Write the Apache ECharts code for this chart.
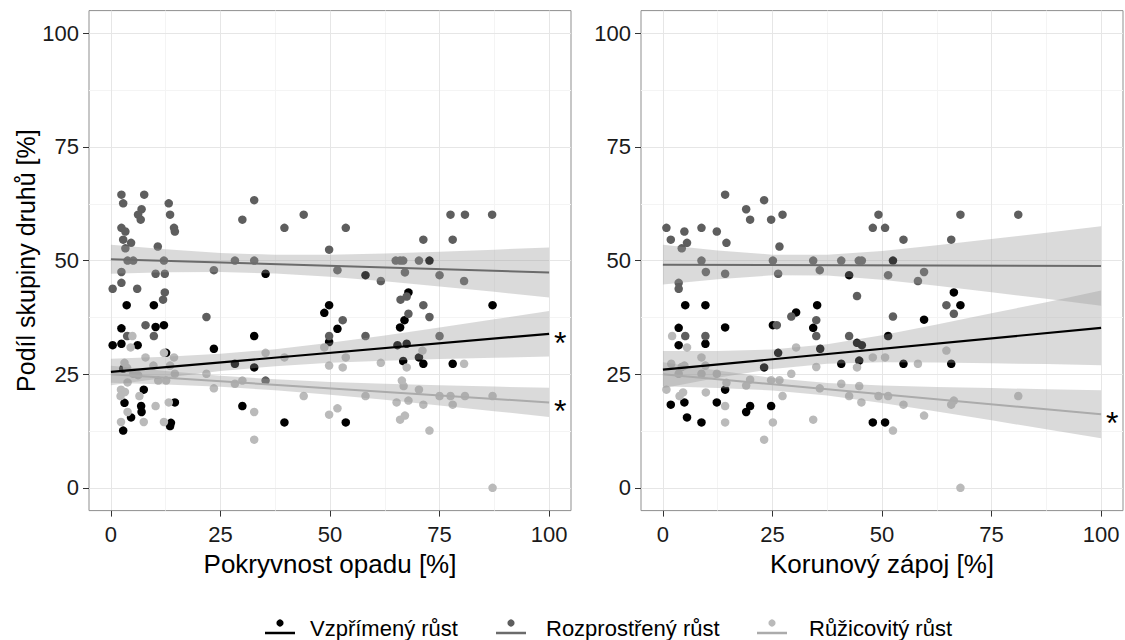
<!DOCTYPE html>
<html>
<head>
<meta charset="utf-8">
<script src="https://cdn.jsdelivr.net/npm/echarts@6/dist/echarts.min.js"></script>
<style>
  html, body { margin: 0; padding: 0; background: #ffffff; }
  #chart { width: 1125px; height: 640px; }
</style>
</head>
<body>
<div id="chart"></div>
<script>
// ---- labels ----
const groupNames = ['Vzpřímený růst', 'Rozprostřený růst', 'Růžicovitý růst'];
const panelTitles = ['Pokryvnost opadu [%]', 'Korunový zápoj [%]'];
const yTitle = 'Podíl skupiny druhů [%]';
const tickValues = [0, 25, 50, 75, 100];
const minorValues = [12.5, 37.5, 62.5, 87.5];

// ---- observations [x, share %] : litter cover panel ----
const litterErect = [[72.7,50.0],[35.3,47.1],[58.1,46.8],[3.6,40.2],[9.8,40.2],[49.8,40.2],[48.7,38.5],[87.1,40.2],[67.9,43.0],[67.0,36.9],[66.0,35.3],[51.7,35.0],[2.4,35.1],[10.2,35.4],[12.1,35.8],[32.7,33.4],[0.4,31.4],[2.4,31.7],[6.1,31.4],[23.5,30.6],[49.8,32.1],[65.4,31.4],[67.5,31.7],[12.6,29.7],[28.3,27.3],[32.7,26.5],[66.7,27.9],[70.3,28.7],[71.3,27.3],[78.0,27.3],[7.5,21.6],[3.1,18.7],[6.9,18.0],[7.0,16.7],[14.6,18.8],[30.0,18.0],[4.6,15.5],[13.7,14.3],[13.5,13.6],[2.8,12.6],[39.6,14.4],[53.6,14.4],[2.8,26.2]];
const litterSpreading = [[2.4,64.5],[7.6,64.5],[2.8,62.6],[13.2,62.6],[32.7,63.3],[7.0,61.3],[6.2,60.1],[6.8,59.0],[13.5,60.1],[30.0,59.0],[44.0,60.1],[39.6,57.2],[53.6,57.2],[77.5,60.1],[80.8,60.1],[87.0,60.1],[2.4,57.2],[3.3,56.4],[14.4,57.2],[14.6,56.4],[2.8,54.6],[4.6,53.9],[3.3,52.7],[10.7,53.1],[71.3,54.6],[78.0,54.6],[49.8,52.4],[3.8,50.0],[5.1,50.0],[12.1,50.0],[28.3,50.0],[32.7,50.0],[65.0,50.0],[66.0,50.0],[66.7,50.0],[70.3,50.0],[2.4,47.5],[10.2,47.1],[12.3,47.1],[23.5,47.9],[51.7,47.9],[67.1,47.4],[61.6,45.5],[75.0,46.8],[80.6,45.5],[0.4,43.8],[2.4,45.1],[6.0,43.8],[12.3,43.0],[11.9,41.4],[66.1,41.4],[67.5,42.1],[71.3,40.2],[21.8,37.6],[52.9,36.9],[67.9,38.3],[72.7,37.6],[7.9,35.8],[3.7,33.4],[9.8,33.4],[49.8,33.4],[58.1,33.4],[75.0,33.4],[35.3,23.6]];
const litterRosette = [[4.9,33.4],[4.5,30.9],[12.1,29.7],[7.9,28.7],[14.4,28.7],[35.3,29.7],[39.6,28.7],[48.7,30.9],[71.1,30.2],[53.6,28.7],[3.1,27.5],[9.7,26.9],[13.5,26.9],[49.8,26.9],[52.9,26.5],[61.6,27.5],[67.5,26.5],[80.6,27.3],[21.8,25.1],[3.7,26.4],[5.1,25.1],[6.2,24.8],[14.6,25.1],[10.8,23.6],[12.6,23.6],[3.8,23.2],[23.5,21.9],[28.3,22.9],[30.0,23.6],[66.4,23.6],[66.8,22.4],[70.3,21.6],[2.3,21.6],[3.2,21.1],[6.5,20.2],[2.2,20.2],[44.0,20.2],[58.1,20.2],[75.0,20.2],[77.5,20.2],[80.8,20.2],[87.1,20.2],[65.2,18.8],[67.9,19.2],[71.3,18.3],[78.0,18.3],[10.2,18.0],[13.2,18.8],[3.8,16.7],[32.7,16.7],[51.7,17.5],[49.8,16.1],[66.0,15.0],[67.1,15.9],[2.3,14.5],[7.5,14.5],[12.1,14.5],[72.7,12.6],[32.7,10.6],[87.1,0.0]];

// ---- observations [x, share %] : canopy cover panel ----
const canopyErect = [[52.5,50.0],[42.5,46.8],[66.4,43.0],[5.1,40.2],[9.7,40.2],[67.9,40.2],[35.2,40.2],[30.4,38.6],[59.6,37.0],[3.6,35.2],[14.2,35.3],[25.1,35.8],[34.3,35.2],[51.4,33.4],[3.6,31.4],[9.7,31.7],[44.3,31.9],[45.4,31.4],[35.9,30.6],[26.3,29.7],[40.7,27.3],[44.8,28.0],[54.9,27.3],[65.8,27.3],[23.1,26.5],[14.2,21.6],[1.8,18.3],[4.9,18.8],[12.3,18.8],[19.0,16.7],[19.9,18.0],[24.7,18.0],[5.5,15.5],[8.8,14.4],[47.9,14.4],[50.7,14.4]];
const canopySpreading = [[14.2,64.5],[23.1,63.3],[19.0,61.3],[19.9,59.0],[24.7,59.0],[27.3,60.1],[0.8,57.2],[1.8,54.6],[4.9,56.4],[5.5,53.9],[8.8,57.2],[12.3,56.4],[14.5,53.9],[4.3,52.7],[26.6,53.1],[49.2,60.1],[47.9,57.2],[50.7,57.2],[54.9,54.6],[65.8,54.6],[67.9,60.1],[81.1,60.1],[8.8,50.0],[25.1,50.0],[34.3,50.0],[40.7,50.0],[44.7,50.0],[45.4,50.0],[9.8,47.5],[14.2,47.1],[26.3,47.1],[35.8,47.9],[51.4,46.8],[59.6,47.5],[58.2,45.5],[3.6,45.1],[3.6,43.8],[44.3,42.2],[64.7,40.2],[66.4,38.3],[52.5,37.7],[29.3,37.7],[26.0,35.8],[35.0,36.9],[5.1,33.4],[9.7,33.4],[35.0,33.4],[42.5,33.4]];
const canopyRosette = [[2.1,33.4],[5.5,30.9],[30.4,30.9],[8.8,28.7],[1.9,27.3],[4.3,26.6],[4.9,26.9],[9.7,26.9],[35.0,26.6],[44.3,26.5],[47.9,28.7],[50.7,28.7],[58.2,27.3],[64.7,30.2],[8.8,25.1],[12.3,25.1],[3.6,25.1],[29.3,25.1],[14.5,23.1],[19.9,23.8],[19.0,22.5],[24.7,23.7],[26.6,23.7],[0.8,21.6],[3.8,20.2],[4.6,21.0],[9.8,21.0],[27.3,20.2],[35.8,21.9],[40.7,22.9],[44.8,22.4],[42.5,20.2],[45.3,18.8],[49.2,20.2],[51.4,20.2],[54.9,18.3],[66.4,19.2],[65.8,18.3],[81.1,20.2],[14.2,18.0],[59.6,15.9],[14.2,14.4],[25.1,14.4],[34.3,15.0],[52.5,12.6],[23.1,10.6],[67.9,0.0]];

// ---- fitted linear trends, value at x = 0 and x = 100 ----
const fitX = [0, 100];
const litterErectFit = [25.5, 33.9];
const litterSpreadingFit = [50.3, 47.4];
const litterRosetteFit = [25.0, 18.8];
const canopyErectFit = [26.0, 35.2];
const canopySpreadingFit = [49.1, 48.8];
const canopyRosetteFit = [25.0, 16.2];

// ---- confidence band edges at bandX ----
const bandX = [0, 12.5, 25, 37.5, 50, 62.5, 75, 87.5, 100];
const litterErectLow = [22.6, 24.25, 25.69, 26.78, 27.5, 27.98, 28.34, 28.63, 28.9];
const litterErectHigh = [28.4, 28.85, 29.51, 30.52, 31.9, 33.52, 35.26, 37.07, 38.9];
const litterSpreadingLow = [47.11, 47.41, 47.49, 47.15, 46.43, 45.44, 44.32, 43.12, 41.9];
const litterSpreadingHigh = [53.49, 52.47, 51.67, 51.27, 51.27, 51.54, 51.94, 52.4, 52.9];
const litterRosetteLow = [23.14, 22.76, 22.23, 21.48, 20.49, 19.36, 18.14, 16.88, 15.6];
const litterRosetteHigh = [26.86, 25.7, 24.67, 23.88, 23.31, 22.9, 22.56, 22.28, 22.0];
const canopyErectLow = [21.9, 24.2, 26.17, 27.32, 27.65, 27.57, 27.41, 27.24, 27.0];
const canopyErectHigh = [30.1, 30.1, 30.43, 31.58, 33.55, 35.93, 38.39, 40.86, 43.4];
const canopySpreadingLow = [44.72, 45.91, 46.75, 46.71, 45.8, 44.45, 43.02, 41.58, 40.05];
const canopySpreadingHigh = [53.48, 52.21, 51.31, 51.27, 52.1, 53.37, 54.74, 56.1, 57.55];
const canopyRosetteLow = [22.35, 21.99, 21.42, 20.32, 18.69, 16.8, 14.85, 12.9, 10.9];
const canopyRosetteHigh = [27.65, 25.81, 24.18, 23.08, 22.51, 22.2, 21.95, 21.7, 21.5];

// significant trend (marked with an asterisk), per group
const litterSignificant = [true, false, true];
const canopySignificant = [false, false, true];

// ---- assembling the panels ----
const FONT = '"Liberation Sans", Arial, sans-serif';
const pointColors = ['#000000', '#5e5e5e', '#bababa'];
const lineColors = ['#000000', '#6b6b6b', '#ababab'];
const lineWidths = [2.2, 2, 2];
const bandFill = 'rgba(153,153,153,0.36)';

const panels = [
  {
    points: [litterErect, litterSpreading, litterRosette],
    fits: [litterErectFit, litterSpreadingFit, litterRosetteFit],
    lows: [litterErectLow, litterSpreadingLow, litterRosetteLow],
    highs: [litterErectHigh, litterSpreadingHigh, litterRosetteHigh],
    sig: litterSignificant
  },
  {
    points: [canopyErect, canopySpreading, canopyRosette],
    fits: [canopyErectFit, canopySpreadingFit, canopyRosetteFit],
    lows: [canopyErectLow, canopySpreadingLow, canopyRosetteLow],
    highs: [canopyErectHigh, canopySpreadingHigh, canopyRosetteHigh],
    sig: canopySignificant
  }
];

const grids = [
  { left: 89, top: 10.6, width: 482, height: 500 },
  { left: 641, top: 10.6, width: 482, height: 500 }
].map(g => Object.assign(g, {
  show: true, backgroundColor: '#ffffff', borderColor: '#8f8f8f', borderWidth: 1, containLabel: false
}));

const xAxes = panelTitles.map((title, p) => ({
  gridIndex: p, type: 'value', min: -5, max: 105,
  name: title, nameLocation: 'middle', nameGap: 34,
  nameTextStyle: { fontSize: 26, color: '#000', fontFamily: FONT },
  axisLine: { show: false, onZero: false },
  axisTick: { show: true, customValues: tickValues, length: 6, lineStyle: { color: '#333', width: 1 } },
  axisLabel: { customValues: tickValues, fontSize: 22, color: '#1a1a1a', margin: 13, fontFamily: FONT },
  splitLine: { show: false }
}));

const yAxes = [0, 1].map(p => ({
  gridIndex: p, type: 'value', min: -5, max: 105,
  name: p === 0 ? yTitle : '', nameLocation: 'middle', nameRotate: 90, nameGap: 50,
  nameTextStyle: { fontSize: 25, color: '#000', fontFamily: FONT },
  axisLine: { show: false, onZero: false },
  axisTick: { show: true, customValues: tickValues, length: 6, lineStyle: { color: '#333', width: 1 } },
  axisLabel: { customValues: tickValues, fontSize: 22, color: '#1a1a1a', margin: 10, fontFamily: FONT },
  splitLine: { show: false }
}));

const series = [];
panels.forEach((panel, p) => {
  // panel grid lines
  const gridLines = [];
  minorValues.forEach(v => {
    gridLines.push({ xAxis: v, lineStyle: { color: '#f4f4f4', width: 1, type: 'solid' } });
    gridLines.push({ yAxis: v, lineStyle: { color: '#f4f4f4', width: 1, type: 'solid' } });
  });
  tickValues.forEach(v => {
    gridLines.push({ xAxis: v, lineStyle: { color: '#e6e6e6', width: 1, type: 'solid' } });
    gridLines.push({ yAxis: v, lineStyle: { color: '#e6e6e6', width: 1, type: 'solid' } });
  });
  series.push({
    type: 'line', xAxisIndex: p, yAxisIndex: p, data: [], silent: true, z: 0,
    markLine: { silent: true, z: 0, symbol: ['none', 'none'], label: { show: false }, data: gridLines }
  });

  // observations
  panel.points.forEach((pts, g) => {
    series.push({
      name: groupNames[g], type: 'scatter', xAxisIndex: p, yAxisIndex: p, z: 2,
      symbol: 'circle', symbolSize: 8.5, data: pts,
      itemStyle: { color: pointColors[g], opacity: 1 }
    });
  });

  // confidence bands
  panel.lows.forEach((low, g) => {
    const high = panel.highs[g];
    series.push({
      type: 'custom', xAxisIndex: p, yAxisIndex: p, z: 3, silent: true,
      data: bandX.map((x, i) => [x, low[i], high[i]]),
      encode: { x: 0, y: [1, 2] },
      renderItem: (params, api) => {
        if (params.dataIndex !== 0) return null;
        const pts = [];
        bandX.forEach((x, i) => pts.push(api.coord([x, high[i]])));
        for (let i = bandX.length - 1; i >= 0; i--) pts.push(api.coord([bandX[i], low[i]]));
        return { type: 'polygon', shape: { points: pts }, style: { fill: bandFill, stroke: null } };
      }
    });
  });

  // fitted trends
  panel.fits.forEach((fit, g) => {
    series.push({
      type: 'line', xAxisIndex: p, yAxisIndex: p, z: 4, silent: true,
      data: fitX.map((x, i) => [x, fit[i]]),
      symbol: 'none',
      lineStyle: { color: lineColors[g], width: lineWidths[g] },
      endLabel: {
        show: panel.sig[g], formatter: '*', distance: 5,
        fontSize: 32, color: '#000', fontFamily: FONT, offset: [0, 9]
      }
    });
  });
});

// legend at the bottom
const legendKeyX = [280, 511, 772];
const legendTextX = [310, 546, 809];
const graphics = [];
groupNames.forEach((name, g) => {
  graphics.push({ type: 'line', shape: { x1: legendKeyX[g] - 15, y1: 633, x2: legendKeyX[g] + 15, y2: 633 },
    style: { stroke: lineColors[g], lineWidth: 2.5 } });
  graphics.push({ type: 'circle', shape: { cx: legendKeyX[g], cy: 623, r: 3.6 },
    style: { fill: pointColors[g] } });
  graphics.push({ type: 'text', x: legendTextX[g], y: 628,
    style: { text: name, fontSize: 22, fill: '#000', fontFamily: FONT, verticalAlign: 'middle', align: 'left' } });
});

const chart = echarts.init(document.getElementById('chart'), null, { renderer: 'svg' });
chart.setOption({
  animation: false,
  backgroundColor: '#ffffff',
  grid: grids,
  xAxis: xAxes,
  yAxis: yAxes,
  series: series,
  graphic: graphics
});
</script>
</body>
</html>
